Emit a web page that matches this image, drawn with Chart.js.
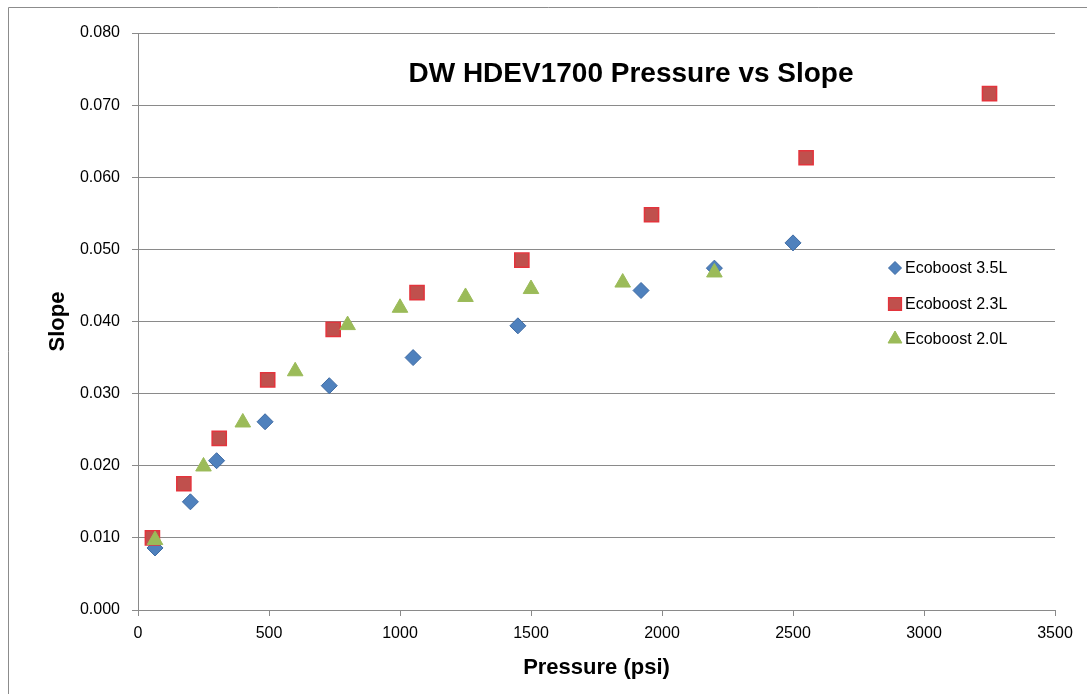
<!DOCTYPE html>
<html>
<head>
<meta charset="utf-8">
<script src="https://cdn.jsdelivr.net/npm/chart.js@4"></script>
<style>
  body { margin: 0; background: #fff; }
  canvas { display: block; }
</style>
</head>
<body>
<canvas id="myChart" width="1087" height="694"></canvas>
<script>
// values
var seriesNames = ['Ecoboost 3.5L', 'Ecoboost 2.3L', 'Ecoboost 2.0L'];
var pressure35 = [65, 200, 300, 485, 730, 1050, 1450, 1920, 2200, 2500];
var slope35 = [0.0086, 0.0150, 0.0207, 0.0261, 0.0311, 0.0350, 0.0394, 0.0443, 0.0474, 0.0509];
var pressure23 = [55, 175, 310, 495, 745, 1065, 1465, 1960, 2550, 3250];
var slope23 = [0.0100, 0.0175, 0.0238, 0.0319, 0.0389, 0.0440, 0.0485, 0.0548, 0.0627, 0.0716];
var pressure20 = [65, 250, 400, 600, 800, 1000, 1250, 1500, 1850, 2200];
var slope20 = [0.0097, 0.0199, 0.0260, 0.0331, 0.0395, 0.0419, 0.0434, 0.0445, 0.0454, 0.0468];

function toPoints(xs, ys) {
  var pts = [];
  for (var i = 0; i < xs.length; i++) {
    pts.push({x: xs[i], y: ys[i]});
  }
  return pts;
}

var gridGray = '#8a8a8a';
var font = 'Liberation Sans';

// later series sit on top, like the original
const data = {
  datasets: [
    {
      label: seriesNames[0],
      data: toPoints(pressure35, slope35),
      order: 3,
      pointStyle: 'rectRot',
      pointRadius: 8,
      backgroundColor: '#4F81BD',
      borderColor: '#3D6AA3',
      borderWidth: 1
    },
    {
      label: seriesNames[1],
      data: toPoints(pressure23, slope23),
      order: 2,
      pointStyle: 'rect',
      pointRadius: 10,
      backgroundColor: '#C0504D',
      borderColor: '#E3343C',
      borderWidth: 1.5
    },
    {
      label: seriesNames[2],
      data: toPoints(pressure20, slope20),
      order: 1,
      pointStyle: 'triangle',
      pointRadius: 9,
      backgroundColor: '#9BBB59',
      borderColor: '#9BBB59',
      borderWidth: 1
    }
  ]
};

// chart border, title and legend drawn inside the plot
const extras = {
  id: 'extras',
  beforeDraw: function(chart) {
    var ctx = chart.ctx;
    ctx.save();
    ctx.fillStyle = '#fff';
    ctx.fillRect(0, 0, chart.width, chart.height);
    ctx.strokeStyle = '#8c8c8c';
    ctx.lineWidth = 1;
    ctx.beginPath();
    ctx.moveTo(8.5, chart.height + 2);
    ctx.lineTo(8.5, 7.5);
    ctx.lineTo(chart.width + 2, 7.5);
    ctx.stroke();
    ctx.restore();
  },
  afterDraw: function(chart) {
    var ctx = chart.ctx;
    ctx.save();
    ctx.fillStyle = '#000';
    ctx.font = 'bold 28px "' + font + '"';
    ctx.textAlign = 'center';
    ctx.textBaseline = 'middle';
    ctx.fillText('DW HDEV1700 Pressure vs Slope', 631, 74);

    ctx.font = '16px "' + font + '"';
    ctx.textAlign = 'left';
    var ys = [268, 304, 339];
    chart.data.datasets.forEach(function(ds, i) {
      ctx.fillStyle = ds.backgroundColor;
      ctx.strokeStyle = ds.borderColor;
      ctx.lineWidth = ds.borderWidth;
      var r = ds.pointStyle === 'rect' ? 9 : (ds.pointStyle === 'triangle' ? 8 : 6.5);
      Chart.helpers.drawPoint(ctx, {pointStyle: ds.pointStyle, radius: r, rotation: 0, borderWidth: ds.borderWidth}, 895, ys[i]);
      ctx.fillStyle = '#000';
      ctx.fillText(ds.label, 905, ys[i] + 1);
    });
    ctx.restore();
  }
};

const config = {
  type: 'scatter',
  data: data,
  plugins: [extras],
  options: {
    responsive: false,
    animation: false,
    layout: {
      padding: {top: 33, right: 32, left: 0, bottom: 0}
    },
    plugins: {
      legend: {display: false},
      title: {display: false},
      tooltip: {enabled: false}
    },
    scales: {
      x: {
        type: 'linear',
        min: 0,
        max: 3500,
        afterFit: function(scale) { scale.height = 84; },
        ticks: {
          stepSize: 500,
          color: '#000',
          padding: 8,
          maxRotation: 0,
          font: {family: font, size: 16},
          callback: function(v) { return String(v); }
        },
        grid: {
          drawOnChartArea: false,
          drawTicks: true,
          tickLength: 6,
          color: gridGray
        },
        border: {display: true, color: gridGray},
        title: {
          display: true,
          text: 'Pressure (psi)',
          color: '#000',
          font: {family: font, size: 22, weight: 'bold'},
          padding: {top: 13, bottom: 13}
        }
      },
      y: {
        type: 'linear',
        min: 0,
        max: 0.08,
        afterFit: function(scale) { scale.width = 138; },
        ticks: {
          stepSize: 0.01,
          color: '#000',
          padding: 12,
          font: {family: font, size: 16},
          callback: function(v) { return v.toFixed(3); }
        },
        grid: {
          drawTicks: true,
          tickLength: 6,
          color: gridGray
        },
        border: {display: true, color: gridGray},
        title: {
          display: true,
          text: 'Slope',
          color: '#000',
          font: {family: font, size: 22, weight: 'bold'},
          padding: {top: 45, bottom: 45}
        }
      }
    }
  }
};

var ctx = document.getElementById('myChart').getContext('2d');
var myChart = new Chart(ctx, config);
</script>
</body>
</html>
